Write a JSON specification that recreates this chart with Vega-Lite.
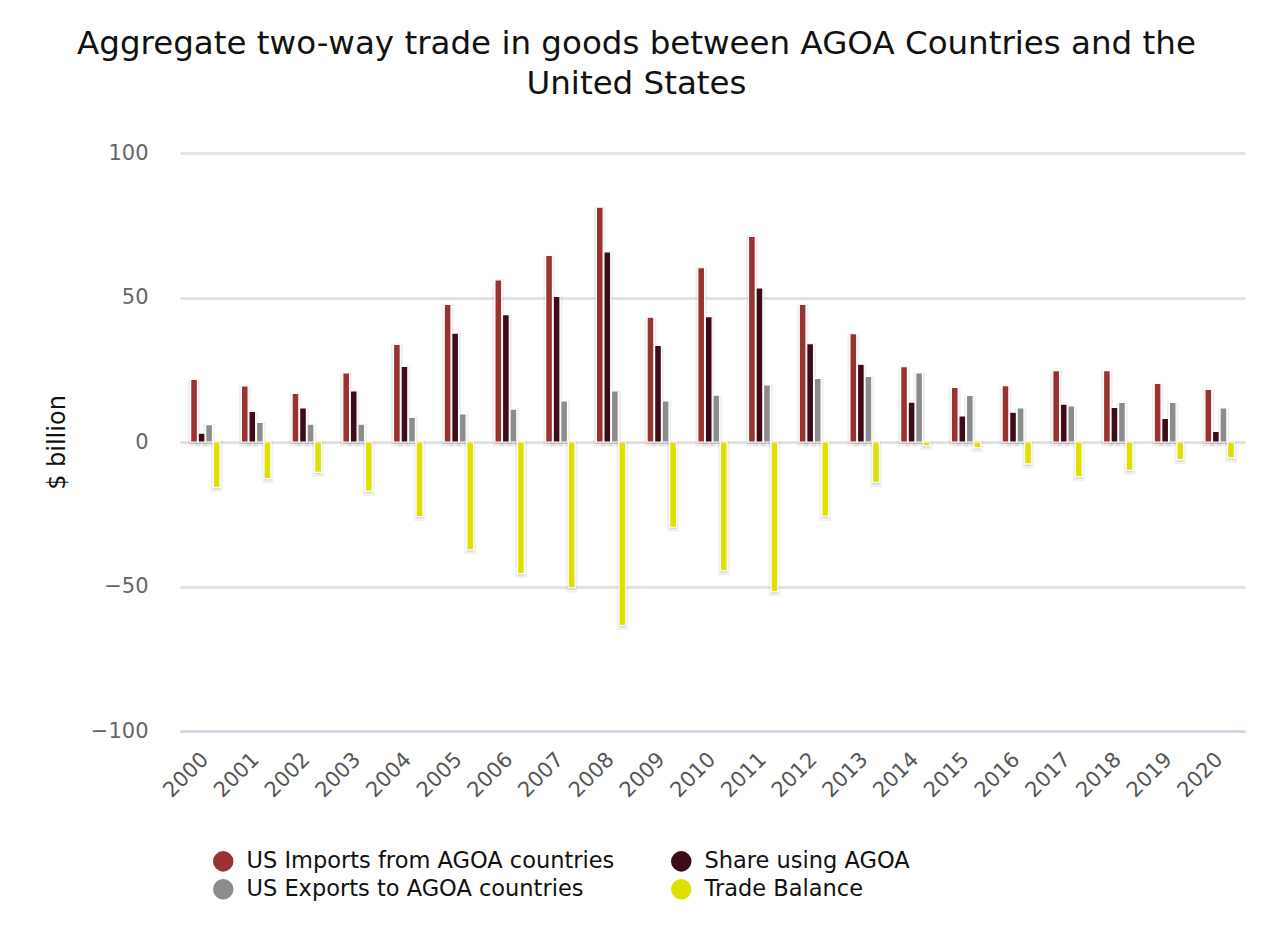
{
  "$schema": "https://vega.github.io/schema/vega-lite/v6.json",
  "autosize": {"type": "none"},
  "width": 1065,
  "height": 578,
  "padding": {"left": 180, "top": 153, "right": 22, "bottom": 220},
  "background": "white",
  "config": {
    "font": "DejaVu Sans",
    "view": {"stroke": null}
  },
  "title": {
    "text": ["Aggregate two-way trade in goods between AGOA Countries and the", "United States"],
    "fontSize": 32.5,
    "fontWeight": "normal",
    "color": "#111111",
    "anchor": "middle",
    "frame": "group",
    "dx": -76,
    "lineHeight": 40,
    "offset": 42
  },
  "data": {
    "values": [
      {"year": "2000", "series": "US Imports from AGOA countries", "value": 21.7},
      {"year": "2000", "series": "Share using AGOA", "value": 3.1},
      {"year": "2000", "series": "US Exports to AGOA countries", "value": 6.0},
      {"year": "2000", "series": "Trade Balance", "value": -15.7},
      {"year": "2001", "series": "US Imports from AGOA countries", "value": 19.4},
      {"year": "2001", "series": "Share using AGOA", "value": 10.6},
      {"year": "2001", "series": "US Exports to AGOA countries", "value": 6.8},
      {"year": "2001", "series": "Trade Balance", "value": -12.7},
      {"year": "2002", "series": "US Imports from AGOA countries", "value": 16.8},
      {"year": "2002", "series": "Share using AGOA", "value": 11.8},
      {"year": "2002", "series": "US Exports to AGOA countries", "value": 6.2},
      {"year": "2002", "series": "Trade Balance", "value": -10.5},
      {"year": "2003", "series": "US Imports from AGOA countries", "value": 23.9},
      {"year": "2003", "series": "Share using AGOA", "value": 17.7},
      {"year": "2003", "series": "US Exports to AGOA countries", "value": 6.2},
      {"year": "2003", "series": "Trade Balance", "value": -17.0},
      {"year": "2004", "series": "US Imports from AGOA countries", "value": 33.8},
      {"year": "2004", "series": "Share using AGOA", "value": 26.2},
      {"year": "2004", "series": "US Exports to AGOA countries", "value": 8.5},
      {"year": "2004", "series": "Trade Balance", "value": -25.8},
      {"year": "2005", "series": "US Imports from AGOA countries", "value": 47.6},
      {"year": "2005", "series": "Share using AGOA", "value": 37.7},
      {"year": "2005", "series": "US Exports to AGOA countries", "value": 9.7},
      {"year": "2005", "series": "Trade Balance", "value": -37.3},
      {"year": "2006", "series": "US Imports from AGOA countries", "value": 56.1},
      {"year": "2006", "series": "Share using AGOA", "value": 44.1},
      {"year": "2006", "series": "US Exports to AGOA countries", "value": 11.4},
      {"year": "2006", "series": "Trade Balance", "value": -45.5},
      {"year": "2007", "series": "US Imports from AGOA countries", "value": 64.6},
      {"year": "2007", "series": "Share using AGOA", "value": 50.4},
      {"year": "2007", "series": "US Exports to AGOA countries", "value": 14.2},
      {"year": "2007", "series": "Trade Balance", "value": -50.5},
      {"year": "2008", "series": "US Imports from AGOA countries", "value": 81.3},
      {"year": "2008", "series": "Share using AGOA", "value": 65.8},
      {"year": "2008", "series": "US Exports to AGOA countries", "value": 17.7},
      {"year": "2008", "series": "Trade Balance", "value": -63.5},
      {"year": "2009", "series": "US Imports from AGOA countries", "value": 43.2},
      {"year": "2009", "series": "Share using AGOA", "value": 33.4},
      {"year": "2009", "series": "US Exports to AGOA countries", "value": 14.2},
      {"year": "2009", "series": "Trade Balance", "value": -29.5},
      {"year": "2010", "series": "US Imports from AGOA countries", "value": 60.3},
      {"year": "2010", "series": "Share using AGOA", "value": 43.4},
      {"year": "2010", "series": "US Exports to AGOA countries", "value": 16.2},
      {"year": "2010", "series": "Trade Balance", "value": -44.5},
      {"year": "2011", "series": "US Imports from AGOA countries", "value": 71.1},
      {"year": "2011", "series": "Share using AGOA", "value": 53.3},
      {"year": "2011", "series": "US Exports to AGOA countries", "value": 19.8},
      {"year": "2011", "series": "Trade Balance", "value": -51.8},
      {"year": "2012", "series": "US Imports from AGOA countries", "value": 47.6},
      {"year": "2012", "series": "Share using AGOA", "value": 34.0},
      {"year": "2012", "series": "US Exports to AGOA countries", "value": 22.0},
      {"year": "2012", "series": "Trade Balance", "value": -25.7},
      {"year": "2013", "series": "US Imports from AGOA countries", "value": 37.5},
      {"year": "2013", "series": "Share using AGOA", "value": 26.9},
      {"year": "2013", "series": "US Exports to AGOA countries", "value": 22.7},
      {"year": "2013", "series": "Trade Balance", "value": -14.0},
      {"year": "2014", "series": "US Imports from AGOA countries", "value": 26.1},
      {"year": "2014", "series": "Share using AGOA", "value": 13.8},
      {"year": "2014", "series": "US Exports to AGOA countries", "value": 23.9},
      {"year": "2014", "series": "Trade Balance", "value": -1.3},
      {"year": "2015", "series": "US Imports from AGOA countries", "value": 18.9},
      {"year": "2015", "series": "Share using AGOA", "value": 9.0},
      {"year": "2015", "series": "US Exports to AGOA countries", "value": 16.1},
      {"year": "2015", "series": "Trade Balance", "value": -2.0},
      {"year": "2016", "series": "US Imports from AGOA countries", "value": 19.5},
      {"year": "2016", "series": "Share using AGOA", "value": 10.3},
      {"year": "2016", "series": "US Exports to AGOA countries", "value": 11.8},
      {"year": "2016", "series": "Trade Balance", "value": -7.6},
      {"year": "2017", "series": "US Imports from AGOA countries", "value": 24.7},
      {"year": "2017", "series": "Share using AGOA", "value": 13.1},
      {"year": "2017", "series": "US Exports to AGOA countries", "value": 12.5},
      {"year": "2017", "series": "Trade Balance", "value": -12.1},
      {"year": "2018", "series": "US Imports from AGOA countries", "value": 24.7},
      {"year": "2018", "series": "Share using AGOA", "value": 12.0},
      {"year": "2018", "series": "US Exports to AGOA countries", "value": 13.7},
      {"year": "2018", "series": "Trade Balance", "value": -9.8},
      {"year": "2019", "series": "US Imports from AGOA countries", "value": 20.3},
      {"year": "2019", "series": "Share using AGOA", "value": 8.2},
      {"year": "2019", "series": "US Exports to AGOA countries", "value": 13.7},
      {"year": "2019", "series": "Trade Balance", "value": -6.1},
      {"year": "2020", "series": "US Imports from AGOA countries", "value": 18.2},
      {"year": "2020", "series": "Share using AGOA", "value": 3.7},
      {"year": "2020", "series": "US Exports to AGOA countries", "value": 11.8},
      {"year": "2020", "series": "Trade Balance", "value": -5.5}
    ]
  },
  "encoding": {
    "x": {
      "field": "year",
      "type": "nominal",
      "scale": {"paddingInner": 0.42, "paddingOuter": 0.21},
      "axis": {
        "title": null,
        "labelAngle": -45,
        "labelAlign": "right",
        "labelBaseline": "middle",
        "labelFontSize": 21,
        "labelColor": "#555555",
        "labelPadding": 25,
        "ticks": false,
        "tickSize": 0,
        "domainColor": "#ccd6eb",
        "domainWidth": 2,
        "grid": false
      }
    },
    "xOffset": {
      "field": "series",
      "type": "nominal",
      "sort": ["US Imports from AGOA countries", "Share using AGOA", "US Exports to AGOA countries", "Trade Balance"],
      "scale": {"paddingInner": 0.1, "paddingOuter": 0}
    },
    "y": {
      "field": "value",
      "type": "quantitative",
      "scale": {"domain": [-100, 100], "nice": false, "zero": true},
      "axis": {
        "title": "$ billion",
        "titleFontSize": 24,
        "titleFontWeight": "normal",
        "titleColor": "#111111",
        "titleAngle": -90,
        "titleAlign": "center",
        "titleBaseline": "middle",
        "titleX": -123,
        "titleY": 289,
        "values": [-100, -50, 0, 50, 100],
        "labelFontSize": 21,
        "labelColor": "#666666",
        "labelPadding": 32,
        "ticks": false,
        "tickSize": 0,
        "domain": false,
        "gridColor": "#e3e3e3",
        "gridWidth": 3
      }
    }
  },
  "layer": [
    {
      "mark": {"type": "bar", "fill": "#000000", "fillOpacity": 0.1, "stroke": "#000000", "strokeOpacity": 0.06, "strokeWidth": 5, "yOffset": 2}
    },
    {
      "mark": {"type": "bar", "stroke": "white", "strokeWidth": 1.2, "opacity": 1},
      "encoding": {
        "color": {
          "field": "series",
          "type": "nominal",
          "scale": {
            "domain": ["US Imports from AGOA countries", "Share using AGOA", "US Exports to AGOA countries", "Trade Balance"],
            "range": ["#993333", "#3d0c18", "#8c8c8c", "#e0e000"]
          },
          "legend": {
            "title": null,
            "orient": "none",
            "legendX": 32,
            "legendY": 697,
            "direction": "horizontal",
            "columns": 2,
            "symbolType": "circle",
            "symbolSize": 420,
            "symbolStrokeWidth": 0,
            "labelFontSize": 22.5,
            "labelColor": "#111111",
            "labelOffset": 12,
            "columnPadding": 55,
            "rowPadding": 5,
            "labelLimit": 500
          }
        }
      }
    }
  ]
}
